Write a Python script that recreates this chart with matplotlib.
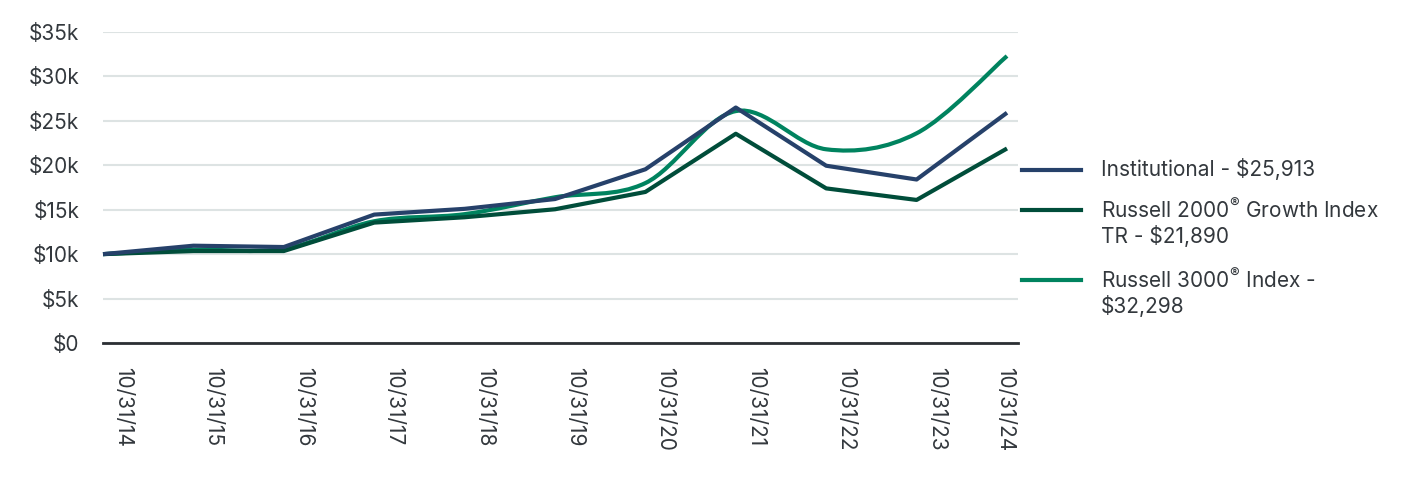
import matplotlib.pyplot as plt
from matplotlib.path import Path
from matplotlib.patches import PathPatch
from matplotlib.lines import Line2D
from matplotlib.ticker import FuncFormatter
from matplotlib.transforms import ScaledTranslation

# growth of a $10,000 investment
dates = ["10/31/14", "10/31/15", "10/31/16", "10/31/17", "10/31/18", "10/31/19",
         "10/31/20", "10/31/21", "10/31/22", "10/31/23", "10/31/24"]
institutional = [10000, 10950, 10800, 14450, 15100, 16200, 19550, 26500, 19950, 18400, 25913]
russell_2000_growth = [10000, 10350, 10350, 13550, 14150, 15050, 17000, 23550, 17400, 16100, 21890]
russell_3000 = [10000, 10500, 10600, 13700, 14500, 16400, 18000, 26100, 21800, 23600, 32298]

labels = ["Institutional - $25,913",
          "Russell 2000$^{®}$ Growth Index\nTR - $21,890",
          "Russell 3000$^{®}$ Index -\n$32,298"]
colors = ["#26416a", "#004d3a", "#00835f"]

TEXT = "#33383d"
FS = 15
plt.rcParams['font.family'] = ['Inter', 'DejaVu Sans']
plt.rcParams['mathtext.fontset'] = 'custom'
plt.rcParams['mathtext.rm'] = 'Inter'


def spline_path(xs, ys):
    # catmull-rom curve through the points, as cubic bezier segments
    verts = [(xs[0], ys[0])]
    codes = [Path.MOVETO]
    n = len(xs)
    for i in range(n - 1):
        x0, y0 = (xs[i - 1], ys[i - 1]) if i > 0 else (xs[i], ys[i])
        x1, y1 = xs[i], ys[i]
        x2, y2 = xs[i + 1], ys[i + 1]
        x3, y3 = (xs[i + 2], ys[i + 2]) if i + 2 < n else (x2, y2)
        verts += [(x1 + (x2 - x0) / 6, y1 + (y2 - y0) / 6),
                  (x2 - (x3 - x1) / 6, y2 - (y3 - y1) / 6),
                  (x2, y2)]
        codes += [Path.CURVE4] * 3
    return Path(verts, codes)


fig = plt.figure(figsize=(14.28, 4.8), dpi=100)
ax = fig.add_axes([103 / 1428, 1 - 343 / 480, (1018 - 103) / 1428, (343 - 32) / 480])

x = list(range(len(dates)))
ax.plot(x, institutional, color=colors[0], lw=3, solid_capstyle='butt', zorder=4, clip_on=False)
ax.plot(x, russell_2000_growth, color=colors[1], lw=3, solid_capstyle='butt', zorder=3, clip_on=False)
ax.add_patch(PathPatch(spline_path(x, russell_3000), fill=False, edgecolor=colors[2],
                       lw=3, capstyle='butt', zorder=2, clip_on=False))

ax.set_xlim(0, 10 + 11 / 90.4)
ax.set_ylim(0, 35000)
ax.set_yticks(range(0, 35001, 5000))
ax.yaxis.set_major_formatter(FuncFormatter(lambda v, p: "$0" if v == 0 else f"${int(v / 1000)}k"))
ax.set_xticks(x)
ax.set_xticklabels(dates, rotation=270, ha='center', va='top')

ax.grid(axis='y', color='#dde3e3', lw=1.5)
ax.set_axisbelow(True)
for side in ['top', 'right', 'left']:
    ax.spines[side].set_visible(False)
ax.spines['bottom'].set_color('#2b2f33')
ax.spines['bottom'].set_linewidth(2)
ax.tick_params(axis='both', length=0, labelsize=FS, colors=TEXT)
ax.tick_params(axis='y', pad=17)
ax.tick_params(axis='x', pad=17)

# date labels sit a little right of their point, the last one is kept inside
ticklabels = ax.get_xticklabels()
for i, tl in enumerate(ticklabels):
    dx = 20 if i < len(ticklabels) - 1 else -2
    tl.set_transform(tl.get_transform() + ScaledTranslation(dx / 100, 0, fig.dpi_scale_trans))

# legend, handles lined up with first text line
handle_y = [170, 210, 280]
for lab, col, hy in zip(labels, colors, handle_y):
    fig.add_artist(Line2D([1022 / 1428, 1081 / 1428], [1 - hy / 480] * 2,
                          color=col, lw=3, transform=fig.transFigure))
    fig.text(1101 / 1428, 1 - (hy - 12) / 480, lab, fontsize=FS, color=TEXT,
             va='top', ha='left', linespacing=1.15)

fig.savefig("out.png", dpi=100)
